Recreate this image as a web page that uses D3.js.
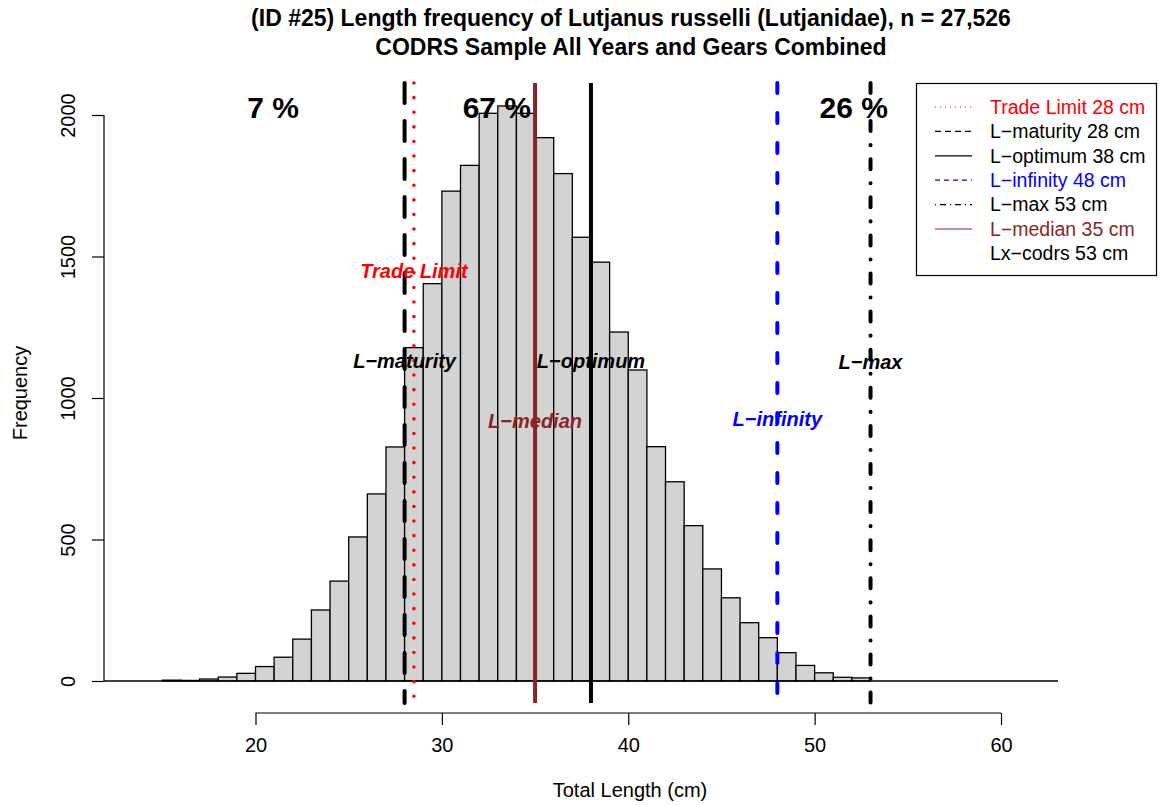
<!DOCTYPE html>
<html><head><meta charset="utf-8">
<script src="https://cdn.jsdelivr.net/npm/d3@7"></script>
<style>body{margin:0;background:#fff}svg{font-family:"Liberation Sans",Arial,sans-serif}</style>
</head><body><svg id="c" width="1161" height="805"></svg>
<script>
// histogram bins (1 cm wide, left edges) and counts
const binStarts = d3.range(15, 53);
const counts = [3,2,7,14,27,51,84,148,251,353,509,661,827,1178,1404,1731,1822,2006,2032,2006,1920,1793,1568,1480,1233,1099,828,704,549,396,294,206,153,100,55,29,13,11];
const xTicks = [20,30,40,50,60];
const yTicks = [0,500,1000,1500,2000];
// reference lines
const refNames = ["Trade Limit","L\u2212maturity","L\u2212optimum","L\u2212infinity","L\u2212max","L\u2212median"];
const refValues = [28.5,28,38,48,53,35];
const refColors = ["#FF0000","#000000","#000000","#0000FF","#000000","#8B2525"];
const refLabelY = [1450,1130,1130,925,1128,920];
// legend
const legendText = ["Trade Limit 28 cm","L\u2212maturity 28 cm","L\u2212optimum 38 cm","L\u2212infinity 48 cm","L\u2212max 53 cm","L\u2212median 35 cm","Lx\u2212codrs 53 cm"];
const legendColors = ["#FF0000","#000000","#000000","#0000FF","#000000","#8B2525","#000000"];
// percentage labels
const pctText = ["7 %","67 %","26 %"];
const pctX = [20.95,32.95,52.1];
const pctY = 2025;

const svg = d3.select("#c");
const x = d3.scaleLinear().domain([20,60]).range([255.5,1001]);
const y = d3.scaleLinear().domain([0,2000]).range([681,115]);
const plotTop = 83, plotBottom = 703, plotLeft = 104, plotRight = 1058;

// bars
svg.append("g").selectAll("rect").data(binStarts).join("rect")
  .attr("x", d => x(d)).attr("width", d => x(d+1)-x(d))
  .attr("y", (d,i) => y(counts[i])).attr("height", (d,i) => y(0)-y(counts[i]))
  .attr("fill","#D3D3D3").attr("stroke","#000").attr("stroke-width",1.3);

// baseline at 0
svg.append("line").attr("x1",plotLeft).attr("x2",plotRight).attr("y1",y(0)).attr("y2",y(0))
  .attr("stroke","#000").attr("stroke-width",1.3);

// axes
const xa = svg.append("g").attr("transform","translate(0,713)")
  .call(d3.axisBottom(x).tickValues(xTicks).tickSize(12).tickPadding(14).tickFormat(d3.format("d")));
const ya = svg.append("g").attr("transform","translate(104,0)")
  .call(d3.axisLeft(y).tickValues(yTicks).tickSize(12).tickPadding(12).tickFormat(d3.format("d")));
[xa,ya].forEach(g=>{g.select(".domain").attr("stroke","#000").attr("stroke-width",1.2);
  g.selectAll(".tick line").attr("stroke","#000").attr("stroke-width",1.2);
  g.selectAll("text").attr("font-size",20).attr("fill","#000").attr("font-family","Liberation Sans, Arial, sans-serif");});
xa.select(".domain").attr("d",`M${x(20)},0H${x(60)}`);
xa.selectAll(".tick text").attr("y",32).attr("dy","0.35em");
ya.select(".domain").attr("d",`M0,${y(0)}V${y(2000)}`);
ya.selectAll(".tick text").attr("transform", function(){return "rotate(-90)";})
  .attr("x",0).attr("y",-36).attr("dy","0.35em").attr("text-anchor","middle");

svg.append("text").attr("x",630).attr("y",797).attr("text-anchor","middle").attr("font-size",20).text("Total Length (cm)");
svg.append("text").attr("transform","translate(27,393) rotate(-90)").attr("text-anchor","middle").attr("font-size",20).text("Frequency");

// title
svg.append("text").attr("x",631).attr("y",26).attr("text-anchor","middle").attr("font-size",23).attr("font-weight","bold")
  .text("(ID #25) Length frequency of Lutjanus russelli (Lutjanidae), n = 27,526");
svg.append("text").attr("x",631).attr("y",55).attr("text-anchor","middle").attr("font-size",23).attr("font-weight","bold")
  .text("CODRS Sample All Years and Gears Combined");

// reference lines
const dashes = ["0.1,14.5","20,18","none","10,20","10,14,0.1,14","none"];
const widths = [3.5,4,4,4,4,4];
refValues.forEach((v,i)=>{
  svg.append("line").attr("x1",x(v)).attr("x2",x(v)).attr("y1",plotTop).attr("y2",plotBottom)
    .attr("stroke",refColors[i]).attr("stroke-width",widths[i])
    .attr("stroke-dasharray",dashes[i]).attr("stroke-linecap", dashes[i]==="none"?"butt":"round");
});
// labels
refValues.forEach((v,i)=>{
  svg.append("text").attr("x",x(v)).attr("y",y(refLabelY[i])).attr("dy","0.35em")
    .attr("text-anchor","middle").attr("font-size",20).attr("font-weight","bold").attr("font-style","italic")
    .attr("fill",refColors[i]).text(refNames[i]);
});
pctText.forEach((t,i)=>{
  svg.append("text").attr("x",x(pctX[i])).attr("y",y(pctY)).attr("dy","0.35em").attr("text-anchor","middle")
    .attr("font-size",30).attr("font-weight","bold").text(t);
});

// legend
const lg = svg.append("g");
lg.append("rect").attr("x",916.5).attr("y",83.5).attr("width",240).attr("height",192)
  .attr("fill","#fff").attr("stroke","#000").attr("stroke-width",1.2);
const legDash = ["1,4","6,4","none","5,4","1,4,6,4","none",null];
legendText.forEach((t,i)=>{
  const yy = 107 + i*24.4;
  if (legDash[i]!==null) lg.append("line").attr("x1",935).attr("x2",972).attr("y1",yy).attr("y2",yy)
    .attr("stroke",legendColors[i]).attr("stroke-width",1.2).attr("stroke-dasharray",legDash[i]);
  lg.append("text").attr("x",990).attr("y",yy).attr("dy","0.35em").attr("font-size",19.5)
    .attr("fill",legendColors[i]).text(t);
});
</script></body></html>
